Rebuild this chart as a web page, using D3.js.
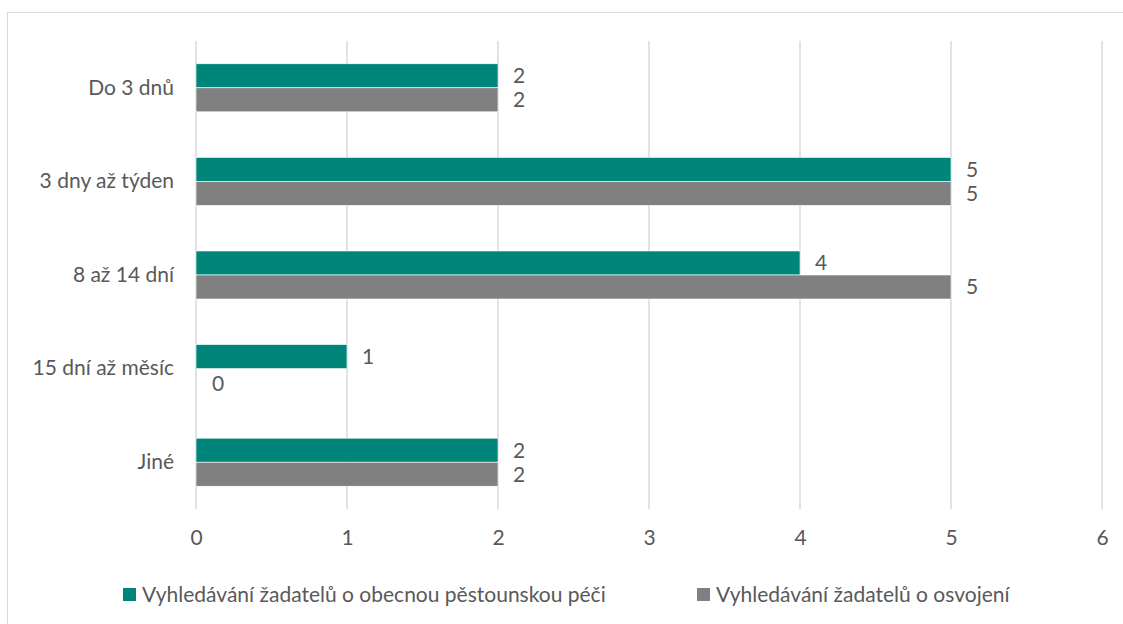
<!DOCTYPE html>
<html><head><meta charset="utf-8">
<script src="https://cdn.jsdelivr.net/npm/d3@7"></script>
<style>body{margin:0;background:#fff}svg{display:block}</style>
</head><body>
<svg id="c" width="1123" height="624"></svg>
<script>
const categories = ["Do 3 dnů","3 dny až týden","8 až 14 dní","15 dní až měsíc","Jiné"];
const seriesNames = ["Vyhledávání žadatelů o obecnou pěstounskou péči","Vyhledávání žadatelů o osvojení"];
const seriesPestoun = [2,5,4,1,2];
const seriesOsvojeni = [2,5,5,0,2];
const xTicks = [0,1,2,3,4,5,6];
const colors = ["#00857A","#808080"];

const svg = d3.select("#c");
const font = "Lato, 'Open Sans', sans-serif";
const fs = 21;
const txt = "#595959";
svg.append("rect").attr("x",7.5).attr("y",12.5).attr("width",1130).attr("height",630)
  .attr("fill","#fff").attr("stroke","#d9d9d9").attr("stroke-width",1);

const x = d3.scaleLinear().domain([0,6]).range([196,1102]);
const y = d3.scaleBand().domain(categories).range([41,509]).paddingInner(0.487).paddingOuter(0.2435);
const ySub = d3.scaleBand().domain([0,1]).range([0,y.bandwidth()]);

// gridlines
svg.append("g").selectAll("line").data(xTicks).join("line")
  .attr("x1",d=>x(d)).attr("x2",d=>x(d)).attr("y1",41).attr("y2",509)
  .attr("stroke","#d9d9d9").attr("stroke-width",1.5);

const series = [seriesPestoun, seriesOsvojeni];
series.forEach((vals,si)=>{
  const g = svg.append("g");
  g.selectAll("rect").data(vals).join("rect")
    .attr("x",x(0)).attr("y",(d,i)=>y(categories[i])+ySub(si))
    .attr("width",d=>x(d)-x(0)).attr("height",ySub.bandwidth())
    .attr("fill",colors[si]).attr("stroke","#fff").attr("stroke-width",0.6);
  g.selectAll("text").data(vals).join("text")
    .attr("x",d=>x(d)+ (d===0?16:15)).attr("y",(d,i)=>y(categories[i])+ySub(si)+ySub.bandwidth()/2 + (d===0?3:0))
    .attr("dy","0.35em").attr("font-family",font).attr("font-size",fs).attr("fill",txt)
    .text(d=>d);
});

// y axis labels
const yAxis = d3.axisLeft(y).tickSize(0).tickPadding(22);
const ya = svg.append("g").attr("transform",`translate(${x(0)},0)`).call(yAxis);
ya.select(".domain").remove();
ya.selectAll("text").attr("font-family",font).attr("font-size",fs).attr("fill",txt);

// x axis
const xAxis = d3.axisBottom(x).tickValues(xTicks).tickSize(0).tickPadding(21).tickFormat(d3.format("d"));
const xa = svg.append("g").attr("transform",`translate(0,509)`).call(xAxis);
xa.select(".domain").remove();
xa.selectAll("text").attr("font-family",font).attr("font-size",fs).attr("fill",txt);

// legend
const legX = [123, 697];
seriesNames.forEach((n,i)=>{
  svg.append("rect").attr("x",legX[i]).attr("y",588).attr("width",13).attr("height",13).attr("fill",colors[i]);
  svg.append("text").attr("x",legX[i]+19).attr("y",594.5).attr("dy","0.35em")
    .attr("font-family",font).attr("font-size",fs).attr("fill",txt).text(n);
});
</script>
</body></html>
